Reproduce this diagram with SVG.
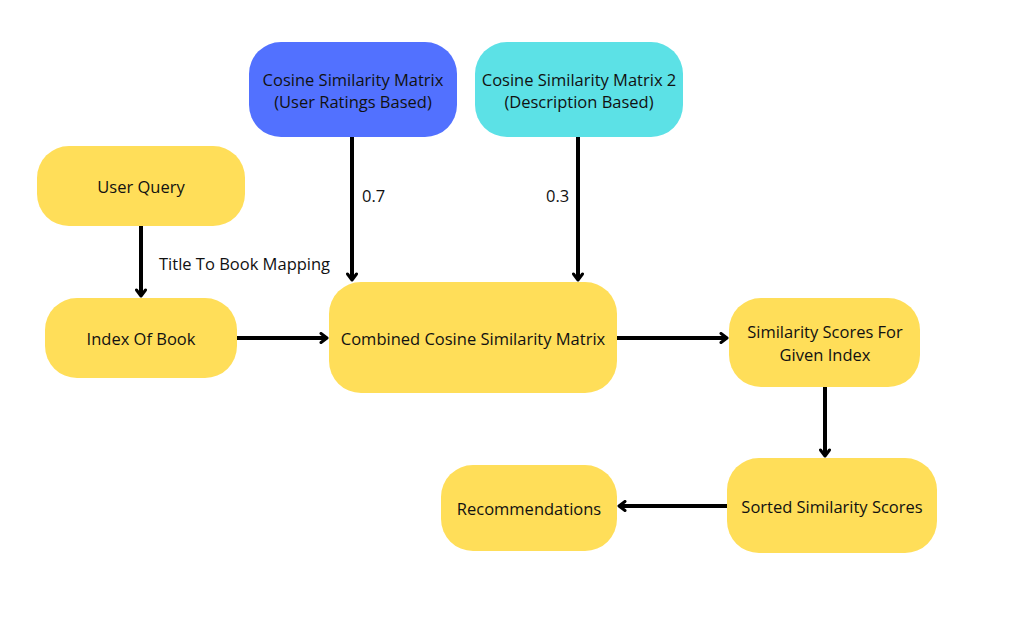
<svg xmlns="http://www.w3.org/2000/svg" width="1028" height="620" viewBox="0 0 1028 620">
<style>
.n{fill:#FFDE59}
.t{font-family:"Open Sans","Liberation Sans",sans-serif;font-size:16.5px;fill:#111;text-anchor:middle;dominant-baseline:central}
.l{font-family:"Open Sans","Liberation Sans",sans-serif;font-size:16.5px;fill:#111;dominant-baseline:central}
.c{stroke:#000;stroke-width:4;fill:none}
</style>
<defs>
<marker id="a" viewBox="0 0 10 12" refX="8" refY="6" markerWidth="10" markerHeight="12" markerUnits="userSpaceOnUse" orient="auto">
<path d="M2,1.5 L8,6 L2,10.5" fill="none" stroke="#000" stroke-width="3" stroke-linecap="round" stroke-linejoin="round"/>
</marker>
</defs>
<rect width="1028" height="620" fill="#fff"/>
<g id="connectors">
<line class="c" x1="141" y1="226" x2="141" y2="296" marker-end="url(#a)"/>
<line class="c" x1="237" y1="338" x2="327" y2="338" marker-end="url(#a)"/>
<line class="c" x1="352" y1="137" x2="352" y2="280" marker-end="url(#a)"/>
<line class="c" x1="578" y1="137" x2="578" y2="280" marker-end="url(#a)"/>
<line class="c" x1="617" y1="338" x2="727" y2="338" marker-end="url(#a)"/>
<line class="c" x1="825" y1="387" x2="825" y2="456" marker-end="url(#a)"/>
<line class="c" x1="727" y1="506" x2="619" y2="506" marker-end="url(#a)"/>
<text class="l" x="159" y="263">Title To Book Mapping</text>
<text class="l" x="362" y="195">0.7</text>
<text class="l" x="546" y="195">0.3</text>
</g>
<g id="blue">
<rect x="249" y="42" width="208" height="95" rx="32" fill="#5271FF"/>
<text class="t" x="353" y="79">Cosine Similarity Matrix</text>
<text class="t" x="353" y="101">(User Ratings Based)</text>
</g>
<g id="cyan">
<rect x="475" y="42" width="208" height="95" rx="32" fill="#5CE1E6"/>
<text class="t" x="579" y="79">Cosine Similarity Matrix 2</text>
<text class="t" x="579" y="101">(Description Based)</text>
</g>
<g id="userquery">
<rect class="n" x="37" y="146" width="208" height="80" rx="32"/>
<text class="t" x="141" y="186">User Query</text>
</g>
<g id="index">
<rect class="n" x="45" y="298" width="192" height="80" rx="32"/>
<text class="t" x="141" y="338">Index Of Book</text>
</g>
<g id="combined">
<rect class="n" x="329" y="282" width="288" height="111" rx="32"/>
<text class="t" x="473" y="338">Combined Cosine Similarity Matrix</text>
</g>
<g id="scores">
<rect class="n" x="729" y="298" width="191" height="89" rx="32"/>
<text class="t" x="825" y="331">Similarity Scores For</text>
<text class="t" x="825" y="354">Given Index</text>
</g>
<g id="sorted">
<rect class="n" x="727" y="458" width="210" height="95" rx="32"/>
<text class="t" x="832" y="506">Sorted Similarity Scores</text>
</g>
<g id="recs">
<rect class="n" x="441" y="465" width="176" height="86" rx="32"/>
<text class="t" x="529" y="508">Recommendations</text>
</g>
</svg>
